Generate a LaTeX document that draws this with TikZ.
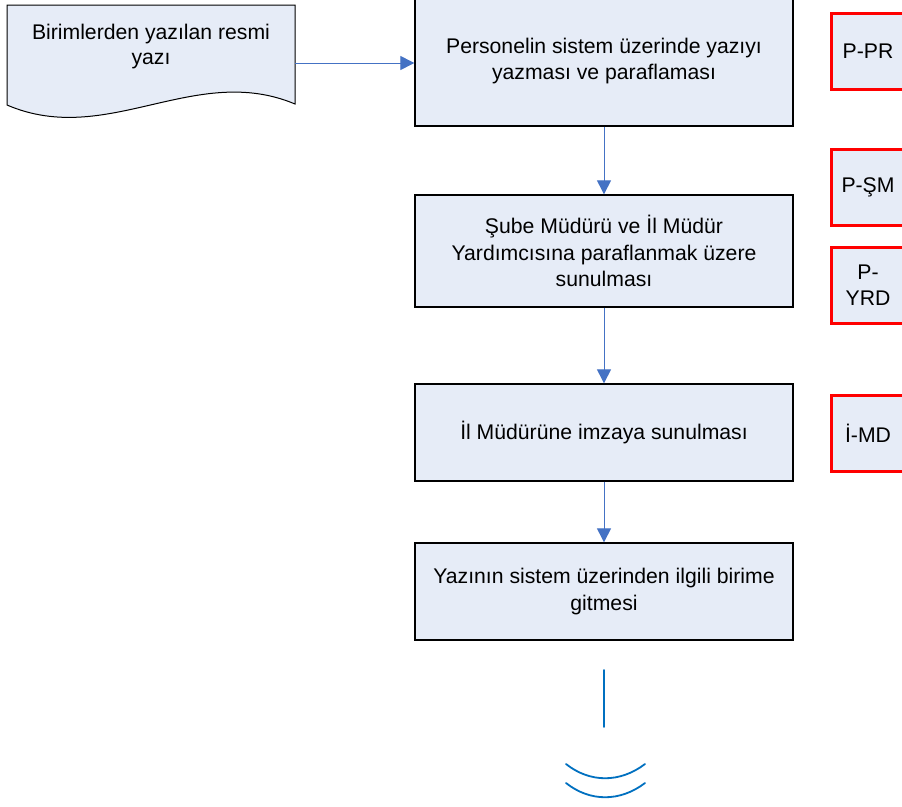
\documentclass[tikz,border=0pt]{standalone}
\usepackage{fontspec}
\setmainfont{Liberation Sans}
\usetikzlibrary{arrows.meta}
\definecolor{boxfill}{HTML}{E6ECF7}
\definecolor{arrowblue}{HTML}{4472C4}
\definecolor{symblue}{HTML}{0070C0}
\tikzset{
  flowbox/.style={draw=black, line width=1.3pt, fill=boxfill, minimum width=378pt, align=center, inner sep=0pt,
    font=\fontsize{21.2pt}{26.5pt}\selectfont},
  codebox/.style={draw=red, line width=3pt, fill=boxfill, minimum width=73pt, minimum height=76pt, align=center, inner sep=0pt,
    font=\fontsize{21.2pt}{26.5pt}\selectfont},
  flowarrow/.style={draw=arrowblue, line width=1pt, -{Triangle[width=14pt,length=14pt]}},
  symline/.style={draw=symblue, line width=1.8pt, line cap=round}
}
\begin{document}
\begin{tikzpicture}[x=1pt,y=-1pt]
\useasboundingbox (0,0) rectangle (902,806);
\clip (0,0) rectangle (902,806);
\fill[white] (0,0) rectangle (902,806);
% document shape
\draw[line width=1pt, fill=boxfill] (7,5) -- (295,5) -- (295,104)
  .. controls (195,62) and (107,148) .. (7,105) -- cycle;
\node[font=\fontsize{21.2pt}{25pt}\selectfont, align=center] (doc) at (151,47) {Birimlerden yazılan resmi\\yazı};
\coordinate (docR) at (295,63);
% main boxes
\node[flowbox, minimum height=130pt] (b1) at (604,61) {Personelin sistem üzerinde yazıyı\\yazması ve paraflaması};
\node[flowbox, minimum height=112pt] (b2) at (604,251) {Şube Müdürü ve İl Müdür\\Yardımcısına paraflanmak üzere\\sunulması};
\node[flowbox, minimum height=97pt] (b3) at (604,432.5) {İl Müdürüne imzaya sunulması};
\node[flowbox, minimum height=97pt] (b4) at (604,591.5) {Yazının sistem üzerinden ilgili birime\\gitmesi};
% code boxes
\node[codebox] (c1) at (868,51) {P-PR};
\node[codebox] (c2) at (868,187) {P-ŞM};
\node[codebox] (c3) at (868,285) {P-\\YRD};
\node[codebox] (c4) at (868,433) {İ-MD};
% arrows
\draw[flowarrow] (docR) -- (b1.west |- docR);
\draw[flowarrow] (b1.south) -- (b2.north);
\draw[flowarrow] (b2.south) -- (b3.north);
\draw[flowarrow] (b3.south) -- (b4.north);
% end symbol
\coordinate (s1) at (604,670);
\coordinate (s2) at (604,727);
\draw[symline] (s1) -- (s2);
\draw[symline] (566,764) .. controls (590,783) and (620,783) .. (645,764);
\draw[symline] (566,783) .. controls (590,802) and (620,802) .. (645,783);
\end{tikzpicture}
\end{document}
